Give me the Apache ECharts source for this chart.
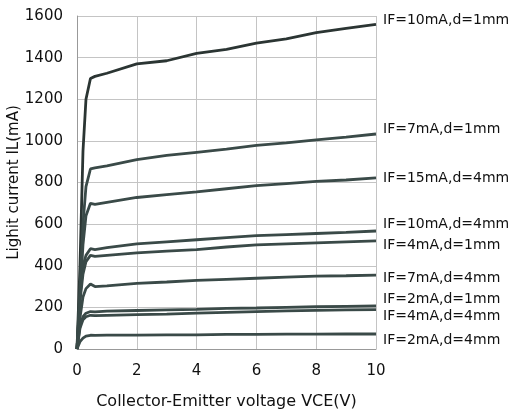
<!DOCTYPE html>
<html><head><meta charset="utf-8">
<script src="https://cdn.jsdelivr.net/npm/echarts@6/dist/echarts.min.js"></script>
<style>html,body{margin:0;padding:0;background:#fff}#c{width:508px;height:412px}</style>
</head><body><div id="c"></div>
<script>
const vce = [0, 0.1, 0.2, 0.3, 0.45, 0.6, 1, 2, 3, 4, 5, 6, 7, 8, 9, 10];
const names = ['IF=10mA,d=1mm','IF=7mA,d=1mm','IF=15mA,d=4mm','IF=10mA,d=4mm','IF=4mA,d=1mm','IF=7mA,d=4mm','IF=2mA,d=1mm','IF=4mA,d=4mm','IF=2mA,d=4mm'];
const s1 = [0, 400, 950, 1200, 1300, 1310, 1325, 1370, 1385, 1420, 1440, 1470, 1490, 1520, 1540, 1560];
const s2 = [0, 300, 600, 780, 865, 870, 880, 910, 930, 945, 960, 978, 990, 1005, 1018, 1033];
const s3 = [0, 250, 500, 640, 700, 695, 705, 728, 742, 755, 770, 785, 795, 805, 812, 822];
const s4 = [0, 250, 400, 450, 482, 478, 487, 505, 515, 525, 535, 545, 550, 555, 560, 567];
const s5 = [0, 230, 360, 420, 450, 445, 450, 462, 470, 477, 490, 500, 505, 510, 515, 520];
const s6 = [0, 150, 250, 290, 312, 300, 303, 315, 322, 330, 335, 340, 345, 350, 352, 355];
const s7 = [0, 110, 155, 172, 180, 178, 182, 185, 188, 190, 195, 197, 200, 203, 205, 207];
const s8 = [0, 100, 140, 155, 162, 160, 162, 165, 168, 172, 176, 180, 183, 186, 188, 189];
const s9 = [0, 35, 52, 62, 66, 65, 67, 67, 68, 68, 70, 70, 71, 71, 72, 72];
const allSeries = [s1, s2, s3, s4, s5, s6, s7, s8, s9];
const labelDy = [-4, -5, 0, -7, 5, 3, -7, 7, 6];

const font = 'DejaVu Sans';
const chart = echarts.init(document.getElementById('c'));
chart.setOption({
  animation: false,
  backgroundColor: '#fff',
  grid: { left: 77, right: 132, top: 16, bottom: 63, containLabel: false, outerBoundsMode: 'none' },
  xAxis: {
    type: 'value', min: 0, max: 10, interval: 2,
    name: 'Collector-Emitter voltage VCE(V)', nameLocation: 'middle', nameGap: 45, nameMoveOverlap: false,
    nameTextStyle: { fontFamily: font, fontSize: 16, color: '#111' },
    axisLine: { show: true, lineStyle: { color: '#999', width: 1 } },
    axisTick: { show: false },
    axisLabel: { fontFamily: font, fontSize: 15, color: '#111', margin: 15 },
    splitLine: { show: true, lineStyle: { color: '#c4c4c4', width: 1 } }
  },
  yAxis: {
    type: 'value', min: 0, max: 1600, interval: 200,
    name: 'Lighit current IL(mA)', nameLocation: 'middle', nameGap: 55, nameMoveOverlap: false,
    nameTextStyle: { fontFamily: font, fontSize: 15, color: '#111' },
    axisLine: { show: true, lineStyle: { color: '#999', width: 1 } },
    axisTick: { show: false },
    axisLabel: { fontFamily: font, fontSize: 15, color: '#111', margin: 14, formatter: v => String(v) },
    splitLine: { show: true, lineStyle: { color: '#c4c4c4', width: 1 } }
  },
  series: allSeries.map((s, i) => ({
    type: 'line',
    name: names[i],
    data: vce.map((x, j) => [x, s[j]]),
    showSymbol: false,
    lineStyle: { color: i === 0 ? '#2b3533' : '#3a4a48', width: 2.8 },
    endLabel: {
      show: true, formatter: names[i], distance: 7, offset: [0, labelDy[i]],
      fontFamily: font, fontSize: 14, color: '#111'
    }
  }))
});
</script></body></html>
